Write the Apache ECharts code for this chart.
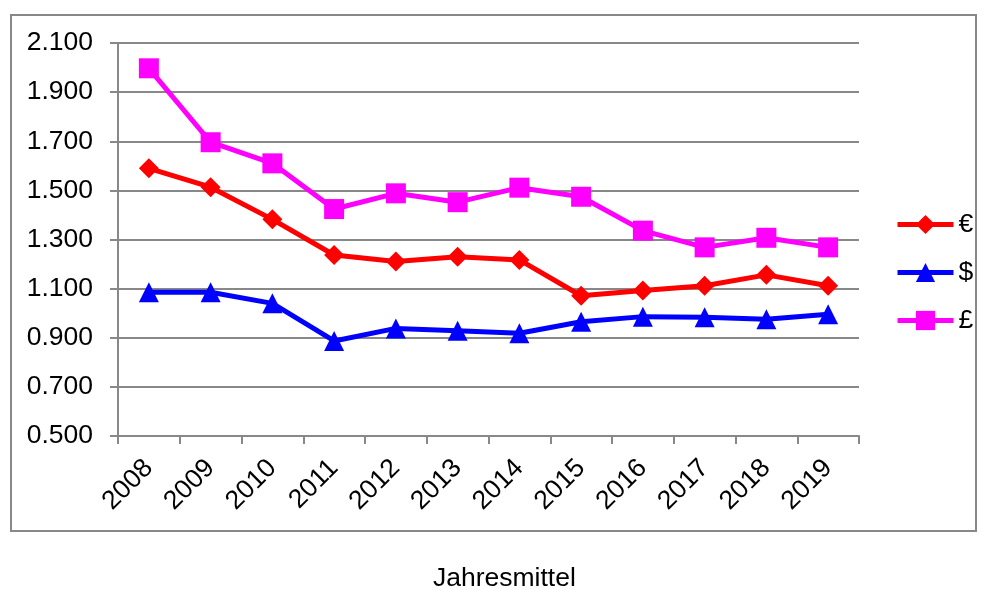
<!DOCTYPE html>
<html>
<head>
<meta charset="utf-8">
<script src="https://cdn.jsdelivr.net/npm/echarts@6/dist/echarts.min.js"></script>
<style>html,body{margin:0;padding:0;background:#fff}#c{width:986px;height:590px}</style>
</head>
<body>
<div id="c"></div>
<script>
var years = ['2008','2009','2010','2011','2012','2013','2014','2015','2016','2017','2018','2019'];
var euro  = [1.590,1.513,1.382,1.237,1.210,1.230,1.217,1.071,1.092,1.112,1.156,1.112];
var dollar= [1.085,1.085,1.040,0.887,0.938,0.928,0.918,0.965,0.986,0.983,0.975,0.996];
var pound = [1.997,1.696,1.610,1.424,1.488,1.452,1.511,1.474,1.336,1.268,1.307,1.268];
var seriesNames = ['€','$','£'];
var xTitle = 'Jahresmittel';

var chart = echarts.init(document.getElementById('c'), null, {renderer:'canvas'});
var font = '"Liberation Sans", Arial, sans-serif';
var fs = 26.5;
function mk(name, data, color, symbol, size){
  return {name:name, type:'line', data:data, symbol:symbol, symbolSize:size,
    lineStyle:{color:color, width:5}, itemStyle:{color:color}, color:color, animation:false};
}
chart.setOption({
  animation:false,
  textStyle:{fontFamily:font},
  graphic:[{type:'rect', shape:{x:11,y:15,width:965,height:516}, style:{fill:null, stroke:'#888', lineWidth:2}, z:-1},
           {type:'text', left:433, top:565, style:{text:xTitle, fontSize:fs, fontFamily:font, fill:'#000'}}],
  grid:{left:118, top:43, right:127, bottom:154, containLabel:false},
  legend:{orient:'vertical', left:890, top:206, itemWidth:56, itemHeight:24, itemGap:21, padding:5,
    lineStyle:{width:5},
    textStyle:{fontSize:fs, color:'#000', fontFamily:font}, data:seriesNames},
  xAxis:{type:'category', data:years, boundaryGap:true,
    axisLine:{lineStyle:{color:'#888', width:2}},
    axisTick:{show:true, length:8, lineStyle:{color:'#888', width:2}, alignWithLabel:false},
    axisLabel:{rotate:45, fontSize:fs, color:'#000', margin:28, fontFamily:font}},
  yAxis:{type:'value', min:0.5, max:2.1, interval:0.2,
    axisLine:{show:true, lineStyle:{color:'#888', width:2}},
    axisTick:{show:true, length:8, lineStyle:{color:'#888', width:2}},
    splitLine:{lineStyle:{color:'#888', width:2}},
    axisLabel:{fontSize:fs, color:'#000', margin:25, fontFamily:font,
      formatter:function(v){return v.toFixed(3);}}},
  series:[mk('€', euro, '#ff0000', 'diamond', [20,20]),
          mk('$', dollar, '#0000ff', 'triangle', [20,20]),
          mk('£', pound, '#ff00ff', 'rect', [20,20])]
});
</script>
</body>
</html>
